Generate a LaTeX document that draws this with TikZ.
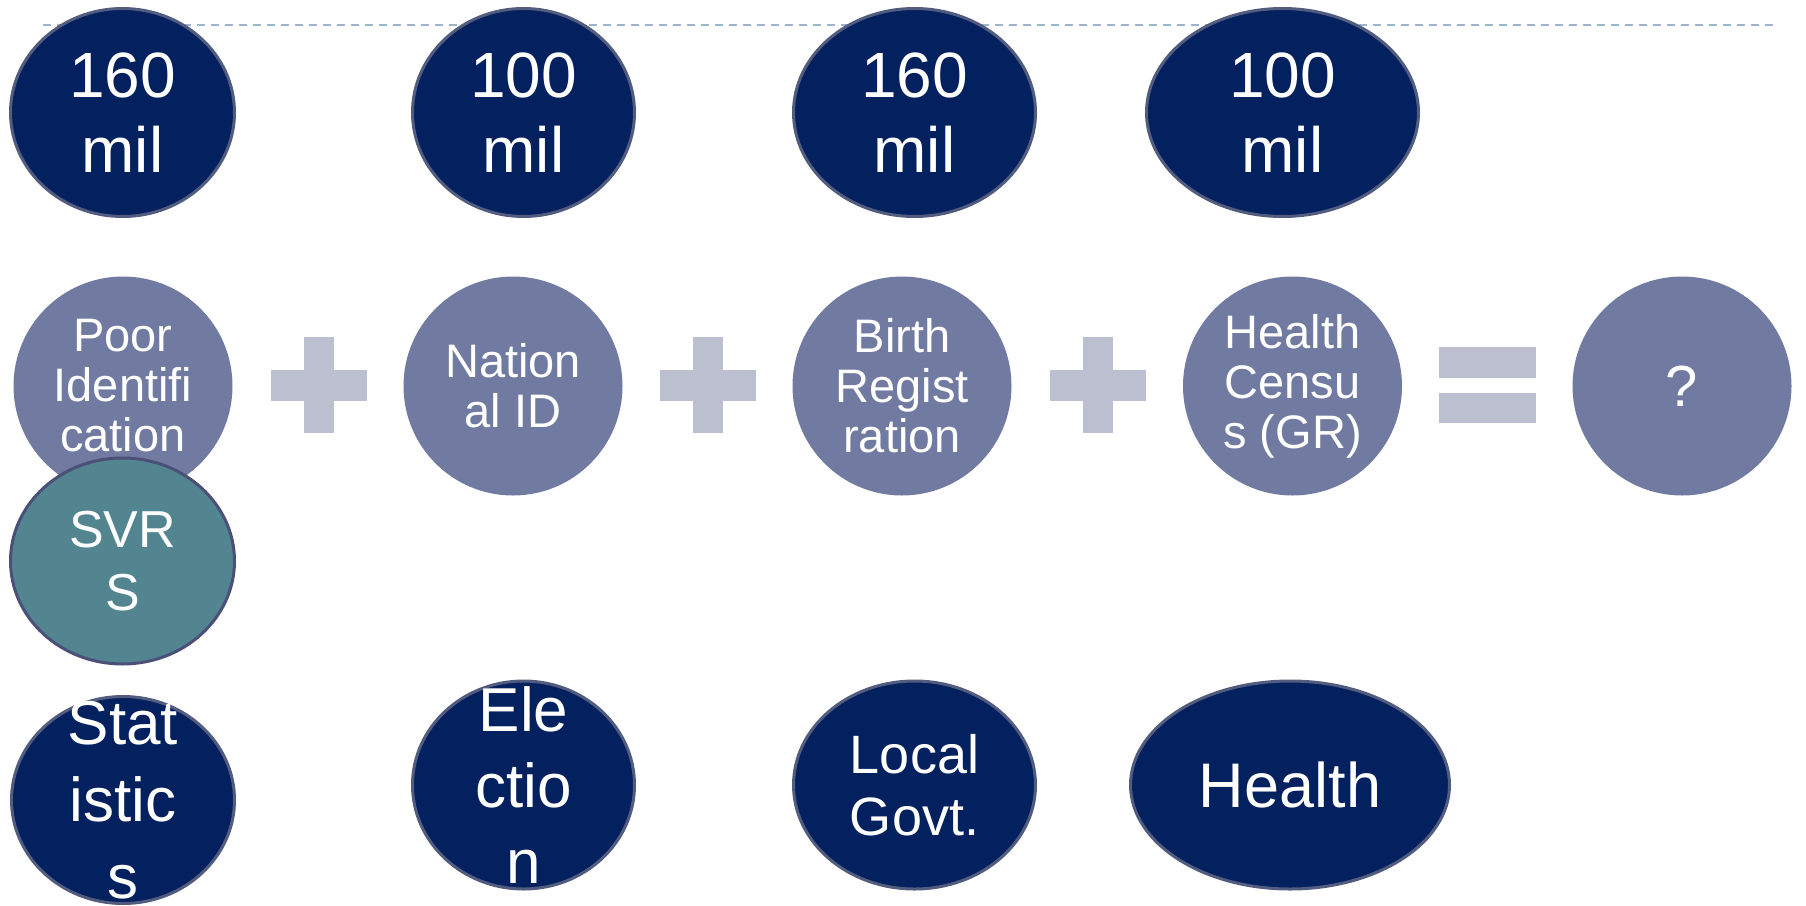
\documentclass[tikz,border=0pt]{standalone}
\usepackage{fontspec}
\setmainfont{Liberation Sans}
\usetikzlibrary{shapes.geometric}
\definecolor{navy}{HTML}{03205F}
\definecolor{navyline}{HTML}{525C7E}
\definecolor{slate}{HTML}{717BA1}
\definecolor{svrsteal}{HTML}{52858F}
\definecolor{svrsline}{HTML}{4A5078}
\definecolor{plusgray}{HTML}{BCBFCF}
\definecolor{rulegray}{HTML}{9DB4CC}
\begin{document}
\begin{tikzpicture}[x = 1pt, y = -1pt,
		navyel/.style = {ellipse, draw = navyline, line width = 3pt, fill = navy, text = white, inner sep = 0pt, align = center},
		overtext/.style = {text = white, inner sep = 0pt, align = center},
		slateel/.style = {circle, fill = slate, text = white, inner sep = 0pt, minimum size = 219pt, align = center, font = \fontsize{47}{50}\selectfont},
		plusbar/.style = {fill = plusgray}]
			\useasboundingbox (0,0) rectangle (1806,905);
			\clip (0,0) rectangle (1806,905);
			\coordinate (rulel) at (43,24.5);
			\coordinate (ruler) at (1774,24.5);
			\draw[rulegray, line width = 2pt, dash pattern = on 8pt off 6pt] (rulel)--(ruler);
			\node[navyel, minimum width = 224pt, minimum height = 208pt, font = \fontsize{64}{75}\selectfont] (stattop) at (122.5,112.5) {160\\mil};
			\node[navyel, minimum width = 222pt, minimum height = 208pt, font = \fontsize{64}{75}\selectfont] (electop) at (523.5,112.5) {100\\mil};
			\node[navyel, minimum width = 242pt, minimum height = 208pt, font = \fontsize{64}{75}\selectfont] (localtop) at (914.5,112.5) {160\\mil};
			\node[navyel, minimum width = 272pt, minimum height = 208pt, font = \fontsize{64}{75}\selectfont] (healthtop) at (1282.5,112.5) {100\\mil};
			\node[slateel] (poor) at (123,386) {Poor\\Identifi\\cation};
			\node[slateel] (natid) at (513,386) {Nation\\al ID};
			\node[slateel] (birth) at (902,386) {Birth\\Regist\\ration};
			\node[slateel] (census) at (1292.5,386) {Health\\Censu\\s (GR)};
			\node[slateel, font = \fontsize{58}{60}\selectfont] (result) at (1682,386) {?};
			\foreach \px in {319,708,1098} {
				\fill[plusbar] (\px-48,370) rectangle (\px+48,401);
				\fill[plusbar] (\px-15,337) rectangle (\px+15,433);
			}
			\fill[plusbar] (1439,347) rectangle (1536,378);
			\fill[plusbar] (1439,393) rectangle (1536,423);
			\node[ellipse, draw = svrsline, line width = 3pt, fill = svrsteal, text = white, inner sep = 0pt, align = center,
				minimum width = 224pt, minimum height = 206pt, font = \fontsize{52}{63}\selectfont] (svrs) at (122.5,561) {SVR\\S};
			\node[navyel, minimum width = 223pt, minimum height = 207pt] (stats) at (123,800) {};
			\node[overtext, font = \fontsize{62}{77}\selectfont] (statstext) at (stats) {Stat\\istic\\s};
			\node[navyel, minimum width = 222pt, minimum height = 208pt] (elec) at (523.5,785) {};
			\node[overtext, font = \fontsize{62}{76}\selectfont] (electext) at (elec) {Ele\\ctio\\n};
			\node[navyel, minimum width = 242pt, minimum height = 208pt, font = \fontsize{54}{62}\selectfont] (localgov) at (914.5,785) {Local\\Govt.};
			\node[navyel, minimum width = 319pt, minimum height = 208pt, font = \fontsize{63}{70}\selectfont] (health) at (1290,785) {Health};
		\end{tikzpicture}
\end{document}
